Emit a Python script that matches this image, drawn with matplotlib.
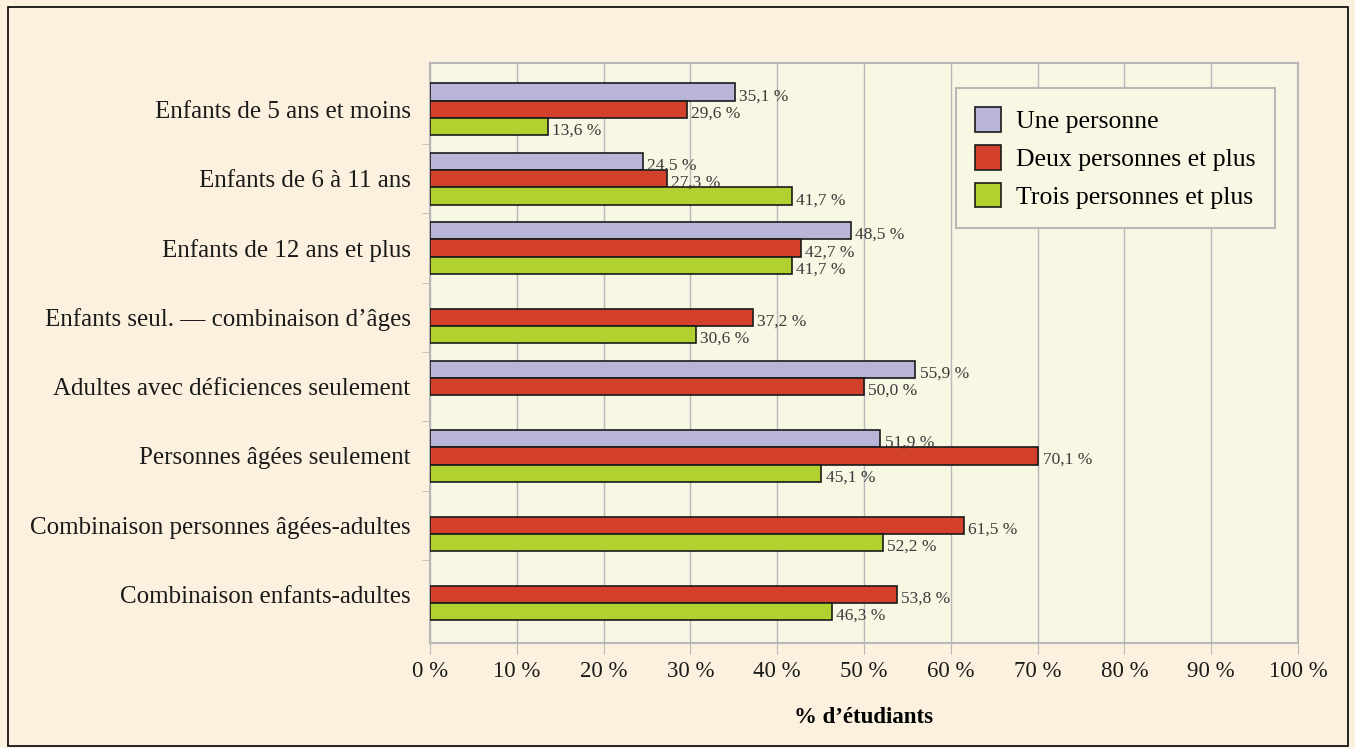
import numpy as np
import matplotlib
matplotlib.use('Agg')
import matplotlib.pyplot as plt
from matplotlib.patches import Rectangle

plt.rcParams['font.family'] = ['Liberation Serif', 'DejaVu Serif']

# data
categories = ['Enfants de 5 ans et moins',
              'Enfants de 6 à 11 ans',
              'Enfants de 12 ans et plus',
              'Enfants seul. — combinaison d\u2019âges',
              'Adultes avec déficiences seulement',
              'Personnes âgées seulement',
              'Combinaison personnes âgées-adultes',
              'Combinaison enfants-adultes']
series_names = ['Une personne', 'Deux personnes et plus', 'Trois personnes et plus']
une = [35.1, 24.5, 48.5, np.nan, 55.9, 51.9, np.nan, np.nan]
deux = [29.6, 27.3, 42.7, 37.2, 50.0, 70.1, 61.5, 53.8]
trois = [13.6, 41.7, 41.7, 30.6, np.nan, 45.1, 52.2, 46.3]
xticks = [0, 10, 20, 30, 40, 50, 60, 70, 80, 90, 100]

colors = ['#b9b5d9', '#d3402b', '#b1d131']
fig_bg = '#fcf1de'
ax_bg = '#f8f7e3'
grid_col = '#b8b8b8'

fig = plt.figure(figsize=(13.55, 7.48), dpi=100, facecolor=fig_bg)
ax = fig.add_axes([430/1355, 1 - 643/748, 868/1355, 580/748])
ax.set_facecolor(ax_bg)

# black frame around the figure
fig.patches.append(Rectangle((8/1355, 2/748), 1340/1355, 739/748, transform=fig.transFigure,
                             fill=False, edgecolor='black', linewidth=1.2))

y = np.arange(len(categories))
h = 0.25
for i, vals in enumerate([une, deux, trois]):
    off = (i - 1) * h
    v = np.array(vals)
    ax.barh(y + off, v, height=h, color=colors[i], edgecolor='#1a1a1a', linewidth=1.2,
            label=series_names[i], zorder=3)
    for yy, val in zip(y + off, v):
        if np.isnan(val):
            continue
        ax.text(val + 0.5, yy + 0.06, f'{val:.1f}'.replace('.', ',') + ' %',
                va='center', ha='left', fontsize=12.5, color='#3a3a3a', zorder=4)

ax.set_xlim(0, 100)
ax.set_ylim(7.70, -0.67)
ax.set_xticks(xticks)
ax.set_xticklabels([f'{t} %' for t in xticks], fontsize=16.5, color='#1a1a1a')
ax.tick_params(axis='x', length=8, color=grid_col, pad=5)
ax.set_yticks(y)
ax.set_yticklabels(categories, fontsize=18, color='#1a1a1a')
ax.tick_params(axis='y', length=0, pad=14)
ax.set_yticks(np.arange(0.5, len(categories) - 0.5, 1), minor=True)
ax.tick_params(axis='y', which='minor', length=6, color=grid_col)

ax.grid(axis='x', color=grid_col, linewidth=1, zorder=0)
ax.set_axisbelow(True)
for s in ax.spines.values():
    s.set_color(grid_col)
    s.set_linewidth(1.5)

ax.set_xlabel('% d\u2019étudiants', fontsize=16.5, fontweight='bold', labelpad=18)

leg = ax.legend(loc='upper right', bbox_to_anchor=((1275 - 430) / 868, 1 - 25/580),
                borderaxespad=0, fontsize=18.5, frameon=True, fancybox=False,
                handlelength=1.0, handleheight=1.1,
                borderpad=0.75, labelspacing=0.45, handletextpad=0.6)
leg.get_frame().set_edgecolor(grid_col)
leg.get_frame().set_linewidth(1.5)
leg.get_frame().set_facecolor(ax_bg)
leg.get_frame().set_alpha(1)

fig.savefig('out.png', dpi=100, facecolor=fig_bg)
